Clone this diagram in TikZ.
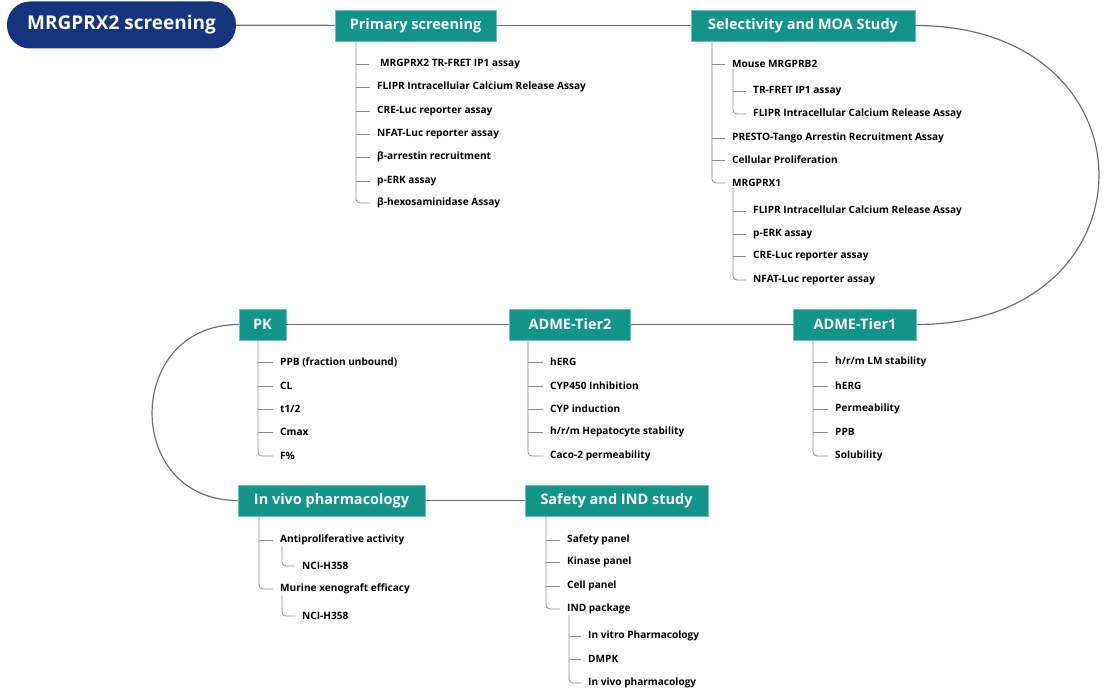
\documentclass[tikz,border=0pt]{standalone}
\usepackage{fontspec}
\setmainfont{Open Sans}
\usetikzlibrary{calc}
\definecolor{navy}{RGB}{22,52,126}
\definecolor{teal}{RGB}{18,148,138}
\definecolor{wire}{RGB}{112,112,112}
\tikzset{
	rootbox/.style={fill=navy, text=white, rounded corners=23pt, minimum width=229pt, minimum height=47pt, font=\fontsize{19}{21}\selectfont\bfseries},
	stagebox/.style={fill=teal, draw=teal!60!white, line width=0.4pt, text=white, minimum height=31pt, inner sep=0pt, font=\fontsize{14.5}{16}\selectfont\bfseries},
	item/.style={anchor=west, inner xsep=7pt, inner ysep=1pt, font=\fontsize{10.1}{11}\selectfont\bfseries},
	link/.style={line width=1.2pt, color=wire},
	branch/.style={line width=0.8pt, color=wire!80, rounded corners=4pt}
}

\begin{document}
\begin{tikzpicture}[x=1pt, y=-1pt]
			%%%%% START %%%%%
			\useasboundingbox (0, 0) rectangle (1114, 693);
			
			\node[rootbox] (root) at (121.5, 25) {MRGPRX2 screening};
			\node[stagebox, minimum width=161pt] (prim) at (415.5, 25.5) {Primary screening};
			\node[stagebox, minimum width=224pt] (sel) at (803, 25.5) {Selectivity and MOA Study};
			\node[stagebox, minimum width=123pt] (tone) at (855, 324.5) {ADME-Tier1};
			\node[stagebox, minimum width=121pt] (ttwo) at (570, 324.5) {ADME-Tier2};
			\node[stagebox, minimum width=47pt] (pk) at (262.5, 324.5) {PK};
			\node[stagebox, minimum width=187pt] (vivo) at (331.5, 500.5) {In vivo pharmacology};
			\node[stagebox, minimum width=183pt] (safe) at (616.5, 500.5) {Safety and IND study};
			
			\draw[link] (root) -- (prim);
			\draw[link] (prim) -- (sel);
			\draw[link] (sel.east) .. controls +(245, 0) and +(243, 0) .. (tone.east);
			\draw[link] (tone) -- (ttwo);
			\draw[link] (ttwo) -- (pk);
			\draw[link] (pk.west) .. controls +(-115, 0) and +(-115, 0) .. (vivo.west);
			\draw[link] (vivo) -- (safe);
			
			% Primary screening
			\node[item] (p1) at (373, 64) {MRGPRX2 TR-FRET IP1 assay};
			\node[item] (p2) at (370, 87) {FLIPR Intracellular Calcium Release Assay};
			\node[item] (p3) at (370, 111) {CRE-Luc reporter assay};
			\node[item] (p4) at (370, 134) {NFAT-Luc reporter assay};
			\node[item] (p5) at (370, 157) {β-arrestin recruitment};
			\node[item] (p6) at (370, 181) {p-ERK assay};
			\node[item] (p7) at (370, 203) {β-hexosaminidase Assay};
			\coordinate (pv) at (356, 0);
			\draw[branch] (pv |- prim.south) |- (p7.west);
			\draw[branch] (pv |- p1.west) -- ++(13, 0);
			\draw[branch] (pv |- p2.west) -- (p2.west);
			\draw[branch] (pv |- p3.west) -- (p3.west);
			\draw[branch] (pv |- p4.west) -- (p4.west);
			\draw[branch] (pv |- p5.west) -- (p5.west);
			\draw[branch] (pv |- p6.west) -- (p6.west);
			
			% Selectivity and MOA Study
			\node[item] (s1) at (725, 64) {Mouse MRGPRB2};
			\node[item] (s11) at (746, 91) {TR-FRET IP1 assay};
			\node[item] (s12) at (746, 114) {FLIPR Intracellular Calcium Release Assay};
			\node[item] (s2) at (725, 138) {PRESTO-Tango Arrestin Recruitment Assay};
			\node[item] (s3) at (725, 160) {Cellular Proliferation};
			\node[item] (s4) at (725, 183) {MRGPRX1};
			\node[item] (s41) at (746, 211) {FLIPR Intracellular Calcium Release Assay};
			\node[item] (s42) at (746, 234) {p-ERK assay};
			\node[item] (s43) at (746, 256) {CRE-Luc reporter assay};
			\node[item] (s44) at (746, 280) {NFAT-Luc reporter assay};
			\coordinate (sv) at (712, 0);
			\coordinate (sw) at (733, 0);
			\draw[branch] (sv |- sel.south) |- (s4.west);
			\draw[branch] (sv |- s1.west) -- (s1.west);
			\draw[branch] (sv |- s2.west) -- (s2.west);
			\draw[branch] (sv |- s3.west) -- (s3.west);
			\draw[branch] (sw |- s1.south) |- (s12.west);
			\draw[branch] (sw |- s11.west) -- (s11.west);
			\draw[branch] (sw |- s4.south) |- (s44.west);
			\draw[branch] (sw |- s41.west) -- (s41.west);
			\draw[branch] (sw |- s42.west) -- (s42.west);
			\draw[branch] (sw |- s43.west) -- (s43.west);
			
			% ADME-Tier1
			\node[item] (a1) at (828, 362) {h/r/m LM stability};
			\node[item] (a2) at (828, 386) {hERG};
			\node[item] (a3) at (828, 409) {Permeability};
			\node[item] (a4) at (828, 432) {PPB};
			\node[item] (a5) at (828, 456) {Solubility};
			\coordinate (av) at (813, 0);
			\draw[branch] (av |- tone.south) |- (a5.west);
			\draw[branch] (av |- a1.west) -- (a1.west);
			\draw[branch] (av |- a2.west) -- (a2.west);
			\draw[branch] (av |- a3.west) -- (a3.west);
			\draw[branch] (av |- a4.west) -- (a4.west);
			
			% ADME-Tier2
			\node[item] (b1) at (543, 362) {hERG};
			\node[item] (b2) at (543, 386) {CYP450 Inhibition};
			\node[item] (b3) at (543, 409) {CYP induction};
			\node[item] (b4) at (543, 432) {h/r/m Hepatocyte stability};
			\node[item] (b5) at (543, 456) {Caco-2 permeability};
			\coordinate (bv) at (528, 0);
			\draw[branch] (bv |- ttwo.south) |- (b5.west);
			\draw[branch] (bv |- b1.west) -- (b1.west);
			\draw[branch] (bv |- b2.west) -- (b2.west);
			\draw[branch] (bv |- b3.west) -- (b3.west);
			\draw[branch] (bv |- b4.west) -- (b4.west);
			
			% PK
			\node[item] (k1) at (273, 362) {PPB (fraction unbound)};
			\node[item] (k2) at (273, 386) {CL};
			\node[item] (k3) at (273, 409) {t1/2};
			\node[item] (k4) at (273, 432) {Cmax};
			\node[item] (k5) at (273, 456) {F\%};
			\coordinate (kv) at (258, 0);
			\draw[branch] (kv |- pk.south) |- (k5.west);
			\draw[branch] (kv |- k1.west) -- (k1.west);
			\draw[branch] (kv |- k2.west) -- (k2.west);
			\draw[branch] (kv |- k3.west) -- (k3.west);
			\draw[branch] (kv |- k4.west) -- (k4.west);
			
			% In vivo pharmacology
			\node[item] (v1) at (273, 540) {Antiproliferative activity};
			\node[item] (v11) at (295, 566) {NCI-H358};
			\node[item] (v2) at (273, 589) {Murine xenograft efficacy};
			\node[item] (v21) at (295, 616) {NCI-H358};
			\coordinate (vv) at (259, 0);
			\coordinate (vw) at (282, 0);
			\draw[branch] (vv |- vivo.south) |- (v2.west);
			\draw[branch] (vv |- v1.west) -- (v1.west);
			\draw[branch] (vw |- v1.south) |- (v11.west);
			\draw[branch] (vw |- v2.south) |- (v21.west);
			
			% Safety and IND study
			\node[item] (f1) at (560, 540) {Safety panel};
			\node[item] (f2) at (560, 562) {Kinase panel};
			\node[item] (f3) at (560, 586) {Cell panel};
			\node[item] (f4) at (560, 609) {IND package};
			\node[item] (f41) at (581, 636) {In vitro Pharmacology};
			\node[item] (f42) at (581, 659) {DMPK};
			\node[item] (f43) at (581, 683) {In vivo pharmacology};
			\coordinate (fv) at (546, 0);
			\coordinate (fw) at (569, 0);
			\draw[branch] (fv |- safe.south) |- (f4.west);
			\draw[branch] (fv |- f1.west) -- (f1.west);
			\draw[branch] (fv |- f2.west) -- (f2.west);
			\draw[branch] (fv |- f3.west) -- (f3.west);
			\draw[branch] (fw |- f4.south) |- (f43.west);
			\draw[branch] (fw |- f41.west) -- (f41.west);
			\draw[branch] (fw |- f42.west) -- (f42.west);
			
			%%%%% END %%%%%
\end{tikzpicture}
\end{document}
